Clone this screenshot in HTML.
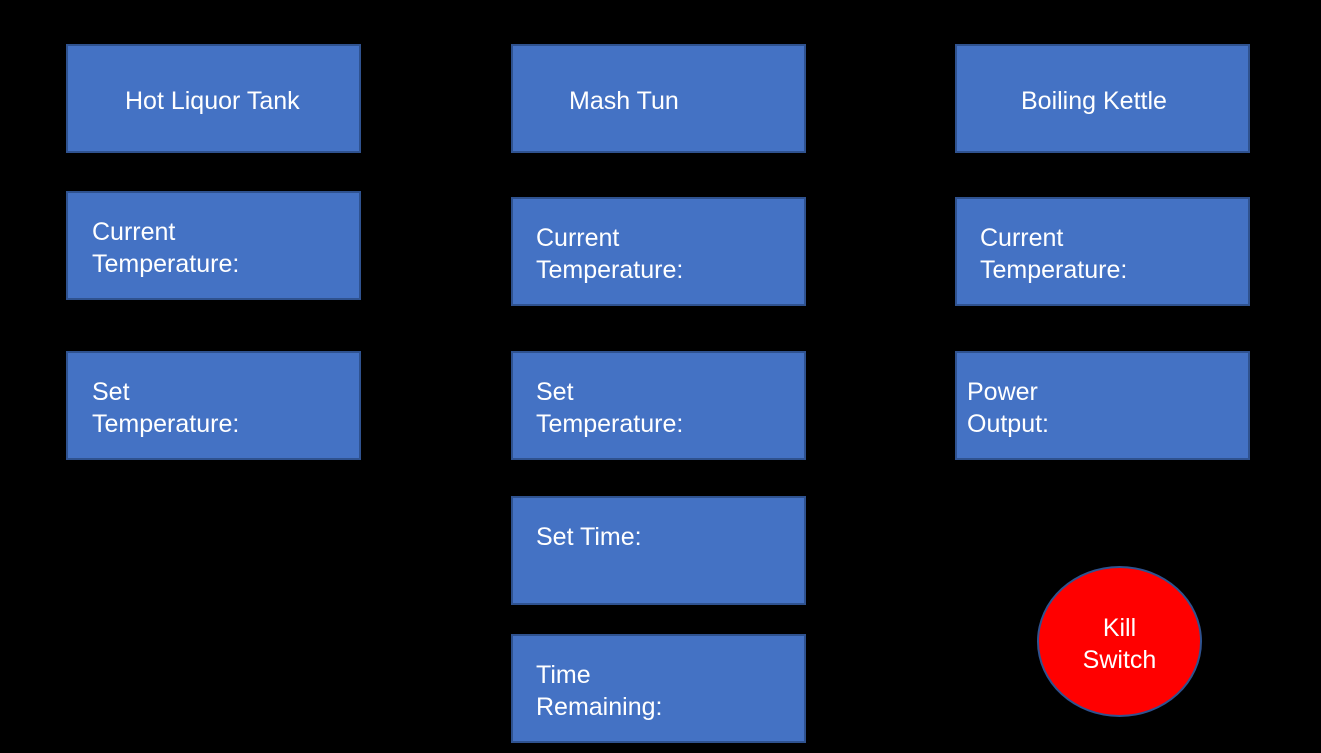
<!DOCTYPE html>
<html><head><style>
body{margin:0;width:1321px;height:753px;background:#000;position:relative;overflow:hidden;font-family:"Liberation Sans",sans-serif;}
.b{position:absolute;width:291px;height:105px;background:#4472C4;border:2px solid #2F528F;}
.t{position:absolute;color:#fff;font-size:25px;line-height:32px;white-space:nowrap;}
</style></head><body>
<div class="b" style="left:66px;top:44px"></div>
<div class="b" style="left:66px;top:191px"></div>
<div class="b" style="left:66px;top:351px"></div>
<div class="b" style="left:511px;top:44px"></div>
<div class="b" style="left:511px;top:197px"></div>
<div class="b" style="left:511px;top:351px"></div>
<div class="b" style="left:511px;top:496px"></div>
<div class="b" style="left:511px;top:634px"></div>
<div class="b" style="left:955px;top:44px"></div>
<div class="b" style="left:955px;top:197px"></div>
<div class="b" style="left:955px;top:351px"></div>
<div style="position:absolute;left:1037px;top:566px;width:161px;height:147px;border-radius:50%;background:#FF0000;border:2px solid #2F528F;"></div>

<div class="t" style="left:125px;top:85px">Hot Liquor Tank</div>
<div class="t" style="left:569px;top:85px">Mash Tun</div>
<div class="t" style="left:1021px;top:85px">Boiling Kettle</div>
<div class="t" style="left:92px;top:216px">Current<br>Temperature:</div>
<div class="t" style="left:92px;top:376px">Set<br>Temperature:</div>
<div class="t" style="left:536px;top:222px">Current<br>Temperature:</div>
<div class="t" style="left:536px;top:376px">Set<br>Temperature:</div>
<div class="t" style="left:536px;top:521px">Set Time:</div>
<div class="t" style="left:536px;top:659px">Time<br>Remaining:</div>
<div class="t" style="left:980px;top:222px">Current<br>Temperature:</div>
<div class="t" style="left:967px;top:376px">Power<br>Output:</div>
<div class="t" style="left:1039px;top:612px;width:161px;text-align:center">Kill<br>Switch</div>
</body></html>
